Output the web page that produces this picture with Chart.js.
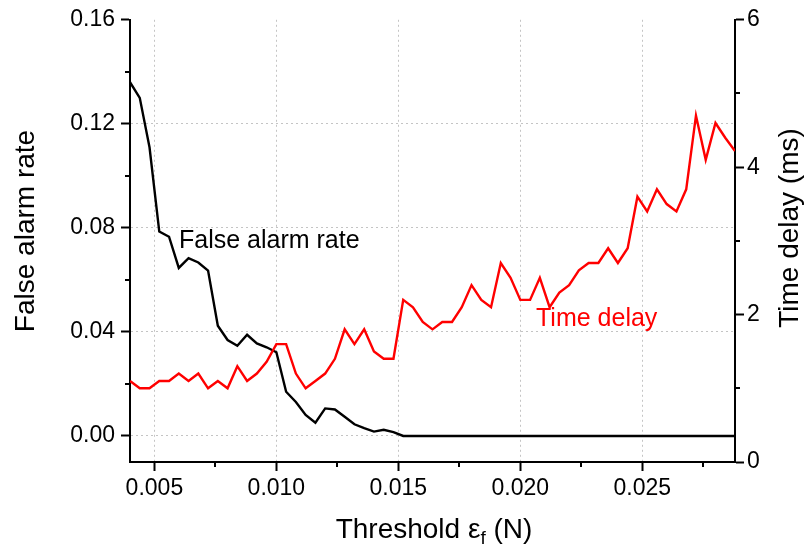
<!DOCTYPE html>
<html><head><meta charset="utf-8">
<script src="https://cdn.jsdelivr.net/npm/chart.js@4.4.1/dist/chart.umd.min.js"></script>
<style>html,body{margin:0;padding:0;background:#fff}#wrap{width:804px;height:556px;position:relative}</style>
</head><body><div id="wrap"><canvas id="c" width="804" height="556"></canvas></div>
<script>
const thresholds = [0.0040,0.0044,0.0048,0.0052,0.0056,0.0060,0.0064,0.0068,0.0072,0.0076,
  0.0080,0.0084,0.0088,0.0092,0.0096,0.0100,0.0104,0.0108,0.0112,0.0116,
  0.0120,0.0124,0.0128,0.0132,0.0136,0.0140,0.0144,0.0148,0.0152,0.0156,
  0.0160,0.0164,0.0168,0.0172,0.0176,0.0180,0.0184,0.0188,0.0192,0.0196,
  0.0200,0.0204,0.0208,0.0212,0.0216,0.0220,0.0224,0.0228,0.0232,0.0236,
  0.0240,0.0244,0.0248,0.0252,0.0256,0.0260,0.0264,0.0268,0.0272,0.0276,
  0.0280,0.0284,0.0288];
const falseAlarmRate = [0.136,0.130,0.111,0.0786,0.0766,0.0646,0.0684,0.0667,0.0636,0.0424,
  0.0369,0.0347,0.0389,0.0356,0.0341,0.0322,0.0170,0.0131,0.0081,0.0051,
  0.0106,0.0102,0.0074,0.0045,0.0030,0.0017,0.0024,0.0015,0,0,
  0,0,0,0,0,0,0,0,0,0,
  0,0,0,0,0,0,0,0,0,0,
  0,0,0,0,0,0,0,0,0,0,
  0,0,0];
const timeDelay = [1.1,1.0,1.0,1.1,1.1,1.2,1.1,1.2,1.0,1.1,
  1.0,1.3,1.1,1.2,1.36,1.6,1.6,1.2,1.0,1.1,
  1.2,1.4,1.8,1.6,1.8,1.5,1.4,1.4,2.2,2.1,
  1.9,1.8,1.9,1.9,2.1,2.4,2.2,2.1,2.7,2.5,
  2.2,2.2,2.5,2.1,2.3,2.4,2.6,2.7,2.7,2.9,
  2.7,2.9,3.6,3.4,3.7,3.5,3.4,3.7,4.7,4.1,
  4.6,4.4,4.22];
const xTicks = [0.005,0.010,0.015,0.020,0.025];
const xMinorTicks = [0.0075,0.0125,0.0175,0.0225,0.0275];
const leftTicks = [0,0.04,0.08,0.12,0.16];
const leftMinorTicks = [0.02,0.06,0.10,0.14];
const rightTicks = [0,2,4,6];
const rightMinorTicks = [1,3,5];

const FONT = "'Liberation Sans', Arial, sans-serif";
const GRID = '#c4c4c4';

const extras = {
  id: 'extras',
  afterDraw(chart) {
    const ctx = chart.ctx;
    const sx = chart.scales.x, sy = chart.scales.y, sr = chart.scales.y1;
    ctx.save();
    ctx.strokeStyle = '#000';
    ctx.lineWidth = 2;
    ctx.beginPath();
    xMinorTicks.forEach(v => { const p = Math.round(sx.getPixelForValue(v)); ctx.moveTo(p, sx.top); ctx.lineTo(p, sx.top + 5); });
    leftMinorTicks.forEach(v => { const p = Math.round(sy.getPixelForValue(v)); ctx.moveTo(sy.right, p); ctx.lineTo(sy.right - 5, p); });
    rightMinorTicks.forEach(v => { const p = Math.round(sr.getPixelForValue(v)); ctx.moveTo(sr.left, p); ctx.lineTo(sr.left + 5, p); });
    ctx.stroke();

    // axis titles
    ctx.fillStyle = '#000';
    ctx.font = '28px ' + FONT;
    ctx.textAlign = 'center';
    ctx.textBaseline = 'alphabetic';
    ctx.save(); ctx.translate(34, 231); ctx.rotate(-Math.PI/2); ctx.fillText('False alarm rate', 0, 0); ctx.restore();
    ctx.save(); ctx.translate(798, 228); ctx.rotate(-Math.PI/2); ctx.fillText('Time delay (ms)', 0, 0); ctx.restore();

    // bottom title with subscript
    const p1 = 'Threshold \u03B5', p2 = 'f', p3 = ' (N)';
    ctx.font = '28px ' + FONT; const w1 = ctx.measureText(p1).width, w3 = ctx.measureText(p3).width;
    ctx.font = '19px ' + FONT; const w2 = ctx.measureText(p2).width;
    let x0 = 434 - (w1 + w2 + w3) / 2;
    const base = 538;
    ctx.textAlign = 'left';
    ctx.font = '28px ' + FONT; ctx.fillText(p1, x0, base);
    ctx.font = '19px ' + FONT; ctx.fillText(p2, x0 + w1, base + 6);
    ctx.font = '28px ' + FONT; ctx.fillText(p3, x0 + w1 + w2, base);

    // in-plot labels
    ctx.font = '25px ' + FONT;
    ctx.fillStyle = '#000';
    ctx.fillText('False alarm rate', 179, 248);
    ctx.fillStyle = '#ff0000';
    ctx.fillText('Time delay', 536, 326);
    ctx.restore();
  }
};

new Chart(document.getElementById('c'), {
  type: 'line',
  data: {
    datasets: [
      { label: 'Time delay', yAxisID: 'y1', order: 0,
        data: thresholds.map((t, i) => ({x: t, y: timeDelay[i]})),
        borderColor: '#ff0000', borderWidth: 2.4, pointRadius: 0, tension: 0, fill: false },
      { label: 'False alarm rate', yAxisID: 'y', order: 1,
        data: thresholds.map((t, i) => ({x: t, y: falseAlarmRate[i]})),
        borderColor: '#000000', borderWidth: 2.4, pointRadius: 0, tension: 0, fill: false }
    ]
  },
  options: {
    responsive: false, animation: false, devicePixelRatio: 1,
    layout: { padding: { top: 16, left: 0, right: 0, bottom: 0 } },
    plugins: { legend: { display: false }, tooltip: { enabled: false } },
    scales: {
      x: {
        type: 'linear', position: 'bottom', min: 0.004, max: 0.0288,
        afterBuildTicks: s => { s.ticks = xTicks.map(v => ({value: v})); },
        afterFit: s => { s.height = 94; },
        ticks: { callback: v => v.toFixed(3), color: '#000', font: { family: FONT, size: 23 }, padding: 4, maxRotation: 0, autoSkip: false },
        grid: { color: GRID, lineWidth: 1, tickColor: '#000', tickWidth: 2, tickLength: 9 },
        border: { display: true, color: '#000', width: 2, dash: [2, 3] }
      },
      y: {
        type: 'linear', position: 'left', min: -0.01, max: 0.16,
        afterBuildTicks: s => { s.ticks = leftTicks.map(v => ({value: v})); },
        afterFit: s => { s.width = 130; },
        ticks: { callback: v => v.toFixed(2), color: '#000', font: { family: FONT, size: 23 }, padding: 6, autoSkip: false },
        grid: { color: c => (c.tick && c.tick.value >= 0.159) ? 'rgba(0,0,0,0)' : GRID, lineWidth: 1, tickColor: '#000', tickWidth: 2, tickLength: 9 },
        border: { display: true, color: '#000', width: 2, dash: [2, 3] }
      },
      y1: {
        type: 'linear', position: 'right', min: 0, max: 6,
        afterBuildTicks: s => { s.ticks = rightTicks.map(v => ({value: v})); },
        afterFit: s => { s.width = 69; },
        ticks: { callback: v => String(v), color: '#000', font: { family: FONT, size: 23 }, padding: 3, autoSkip: false },
        grid: { drawOnChartArea: false, tickColor: '#000', tickWidth: 2, tickLength: 9 },
        border: { display: true, color: '#000', width: 2 }
      }
    }
  },
  plugins: [extras]
});
</script>
</body></html>
